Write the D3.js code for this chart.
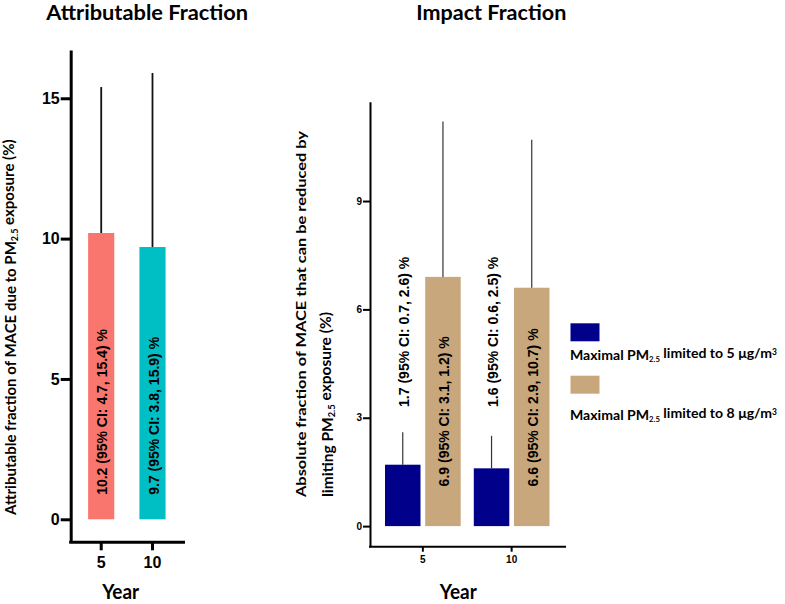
<!doctype html>
<html>
  <head>
    <script src="https://cdnjs.cloudflare.com/ajax/libs/d3/7.8.5/d3.min.js"></script>
    <style>
      body { margin: 0; background: #fff; }
      text { fill: #000; }
    </style>
  </head>
  <body>
    <svg id="chart" width="785" height="604"></svg>
    <script>
      // left panel: attributable fraction
      var afYears = ["5", "10"];
      var afValues = [10.2, 9.7];
      var afUpper = [15.4, 15.9];
      var afColors = ["#F8766D", "#00BFC4"];
      var afLabels = ["10.2 (95% CI: 4.7, 15.4) %", "9.7 (95% CI: 3.8, 15.9) %"];
      var afTicks = [0, 5, 10, 15];

      // right panel: impact fraction
      var ifYears = ["5", "10"];
      var ifScenarios = ["5", "8"];
      var ifColors = ["#00008B", "#C9A77C"];
      var ifValues5 = [1.7, 1.6];
      var ifUpper5 = [2.6, 2.5];
      var ifLabels5 = ["1.7 (95% CI: 0.7, 2.6) %", "1.6 (95% CI: 0.6, 2.5) %"];
      var ifValues8 = [6.9, 6.6];
      var ifUpper8 = [11.2, 10.7];
      var ifLabels8 = ["6.9 (95% CI: 3.1, 1.2) %", "6.6 (95% CI: 2.9, 10.7) %"];
      var ifTicks = [0, 3, 6, 9];

      var svg = d3.select("#chart");
      var calibri = "Lato, 'Open Sans', sans-serif";
      var arial = "'Liberation Sans', Arial, sans-serif";

      // ---------- left ----------
      var yL = d3.scaleLinear().domain([-0.82, 16.72]).range([542.3, 50]);
      var xL = d3.scaleBand().domain(afYears).range([70.7, 183])
        .paddingInner(0.49).paddingOuter(0.34);

      var gL = svg.append("g");

      gL.selectAll("rect.bar")
        .data(afYears)
        .enter()
        .append("rect")
        .attr("class", "bar")
        .attr("x", d => xL(d))
        .attr("width", xL.bandwidth())
        .attr("y", (d, i) => yL(afValues[i]))
        .attr("height", (d, i) => yL(0) - yL(afValues[i]))
        .style("fill", (d, i) => afColors[i]);

      gL.selectAll("line.err")
        .data(afYears)
        .enter()
        .append("line")
        .attr("class", "err")
        .attr("x1", d => xL(d) + xL.bandwidth() / 2)
        .attr("x2", d => xL(d) + xL.bandwidth() / 2)
        .attr("y1", (d, i) => yL(afValues[i]))
        .attr("y2", (d, i) => yL(afUpper[i]))
        .style("stroke", "#111")
        .style("stroke-width", 1.8);

      gL.selectAll("text.lab")
        .data(afYears)
        .enter()
        .append("text")
        .attr("class", "lab")
        .attr("transform", (d, i) => "translate(" + (xL(d) + xL.bandwidth() / 2 + 1) + "," + yL(0.87) + ") rotate(-90)")
        .attr("dy", "0.36em")
        .style("font-family", arial)
        .style("font-weight", "bold")
        .style("font-size", "14px")
        .text((d, i) => afLabels[i]);

      var yAxisL = d3.axisLeft(yL).tickValues(afTicks).tickSize(10).tickSizeOuter(0).tickPadding(1);
      var gyL = gL.append("g").attr("transform", "translate(70.7,0)").call(yAxisL);
      gyL.selectAll("path, line").style("stroke", "#000").style("stroke-width", 3);
      gyL.selectAll("text").style("font-family", arial).style("font-weight", "bold").style("font-size", "16px");

      var xAxisL = d3.axisBottom(xL).tickSize(8).tickSizeOuter(0).tickPadding(6);
      var gxL = gL.append("g").attr("transform", "translate(0,542.3)").call(xAxisL);
      gxL.select("path").attr("d", "M69.2,0H185");
      gxL.selectAll("path, line").style("stroke", "#000").style("stroke-width", 3);
      gxL.selectAll("text").style("font-family", arial).style("font-weight", "bold").style("font-size", "16px");

      // ---------- right ----------
      var yR = d3.scaleLinear().domain([-0.57, 11.75]).range([546.7, 101.7]);
      var xR = d3.scaleBand().domain(ifYears).range([370, 564.5])
        .paddingInner(0.1475).paddingOuter(0.169);
      var xS = d3.scaleBand().domain(ifScenarios).range([0, xR.bandwidth()]).paddingInner(0.117);

      var ifRows = [];
      ifYears.forEach(function (yr, i) {
        ifRows.push({ year: yr, sc: "5", v: ifValues5[i], up: ifUpper5[i], lab: ifLabels5[i] });
        ifRows.push({ year: yr, sc: "8", v: ifValues8[i], up: ifUpper8[i], lab: ifLabels8[i] });
      });

      var gR = svg.append("g");
      var cx = d => xR(d.year) + xS(d.sc) + xS.bandwidth() / 2;

      gR.selectAll("rect.bar")
        .data(ifRows)
        .enter()
        .append("rect")
        .attr("class", "bar")
        .attr("x", d => xR(d.year) + xS(d.sc))
        .attr("width", xS.bandwidth())
        .attr("y", d => yR(d.v))
        .attr("height", d => yR(0) - yR(d.v))
        .style("fill", d => ifColors[ifScenarios.indexOf(d.sc)]);

      gR.selectAll("line.err")
        .data(ifRows)
        .enter()
        .append("line")
        .attr("class", "err")
        .attr("x1", cx)
        .attr("x2", cx)
        .attr("y1", d => yR(d.v))
        .attr("y2", d => yR(d.up))
        .style("stroke", "#333")
        .style("stroke-width", 1.2);

      gR.selectAll("text.lab")
        .data(ifRows)
        .enter()
        .append("text")
        .attr("class", "lab")
        .attr("transform", d => "translate(" + (cx(d) + 1) + "," + (d.sc === "5" ? yR(3.3) : yR(1.1)) + ") rotate(-90)")
        .attr("dy", "0.36em")
        .style("font-family", arial)
        .style("font-weight", "bold")
        .style("font-size", "14px")
        .text(d => d.lab);

      var yAxisR = d3.axisLeft(yR).tickValues(ifTicks).tickSize(7).tickSizeOuter(0).tickPadding(1);
      var gyR = gR.append("g").attr("transform", "translate(370,0)").call(yAxisR);
      gyR.selectAll("path, line").style("stroke", "#000").style("stroke-width", 2);
      gyR.selectAll("text").style("font-family", arial).style("font-weight", "bold").style("font-size", "10px");

      var xAxisR = d3.axisBottom(xR).tickSize(5).tickSizeOuter(0).tickPadding(4);
      var gxR = gR.append("g").attr("transform", "translate(0,546.7)").call(xAxisR);
      gxR.select("path").attr("d", "M369,0H566");
      gxR.selectAll("path, line").style("stroke", "#000").style("stroke-width", 2);
      gxR.selectAll("text").style("font-family", arial).style("font-weight", "bold").style("font-size", "10px");

      // ---------- titles ----------
      function fit(t, w) {
        t.attr("textLength", w).attr("lengthAdjust", "spacingAndGlyphs");
        return t;
      }
      // scale font size so the whole text (with tspans) is w wide
      function fitSize(t, w, base) {
        var len = t.node().getComputedTextLength();
        t.style("font-size", (base * w / len) + "px");
        return t;
      }

      fit(svg.append("text").attr("x", 147.2).attr("y", 20).attr("text-anchor", "middle")
        .style("font-family", calibri).style("font-weight", "bold").style("font-size", "20px")
        .text("Attributable Fraction"), 202);
      fit(svg.append("text").attr("x", 491.3).attr("y", 20).attr("text-anchor", "middle")
        .style("font-family", calibri).style("font-weight", "bold").style("font-size", "20px")
        .text("Impact Fraction"), 150);

      fit(svg.append("text").attr("x", 120.7).attr("y", 599).attr("text-anchor", "middle")
        .style("font-family", calibri).style("font-weight", "bold").style("font-size", "21px")
        .text("Year"), 37);
      fit(svg.append("text").attr("x", 458.3).attr("y", 599).attr("text-anchor", "middle")
        .style("font-family", calibri).style("font-weight", "bold").style("font-size", "21px")
        .text("Year"), 37);

      // y titles with PM2.5 subscript
      function pmText(g, before, after) {
        var t = g.append("text")
          .style("font-family", calibri).style("font-weight", "bold").style("font-size", "13px");
        t.append("tspan").text(before + "PM");
        t.append("tspan").attr("dy", "0.25em").style("font-size", "0.6em").text("2.5");
        t.append("tspan").attr("dy", "-0.25em").text(after);
        return t;
      }

      var t1 = pmText(svg.append("g").attr("transform", "translate(15.5,515) rotate(-90)"),
        "Attributable fraction of MACE due to ", " exposure (%)");
      fitSize(t1, 376, 13);

      fit(svg.append("g").attr("transform", "translate(306,497) rotate(-90)").append("text")
        .style("font-family", calibri).style("font-weight", "bold").style("font-size", "13.5px")
        .text("Absolute fraction of MACE that can be reduced by"), 366);
      var t2 = pmText(svg.append("g").attr("transform", "translate(333,497) rotate(-90)"),
        "limiting ", " exposure (%)");
      fitSize(t2, 185, 13);

      // legend
      var legY = [323.3, 375.7];
      var legText = [360, 420];
      ifScenarios.forEach(function (s, i) {
        svg.append("rect")
          .attr("x", 570.5).attr("y", legY[i]).attr("width", 29).attr("height", 18)
          .style("fill", ifColors[i]);
        var t = svg.append("text").attr("x", 570).attr("y", legText[i])
          .style("font-family", calibri).style("font-weight", "bold").style("font-size", "14px");
        t.append("tspan").text("Maximal PM");
        t.append("tspan").attr("dy", "0.3em").style("font-size", "0.55em").text("2.5");
        t.append("tspan").attr("dy", "-0.3em").text(" limited to " + s + " μg/m");
        t.append("tspan").attr("dy", "-0.35em").style("font-size", "0.6em").text("3");
        fitSize(t, 207, 14);
      });
    </script>
  </body>
</html>
